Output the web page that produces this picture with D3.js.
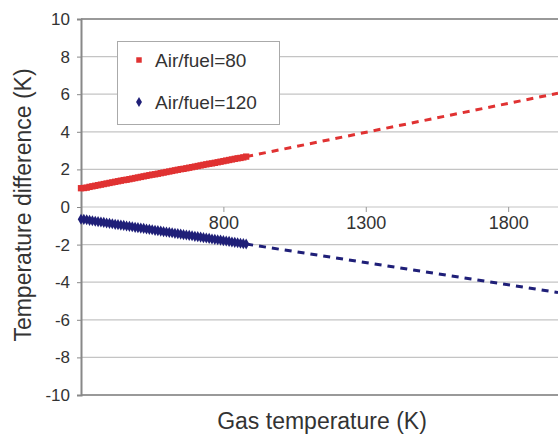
<!DOCTYPE html>
<html>
<head>
<meta charset="utf-8">
<script src="https://cdn.jsdelivr.net/npm/d3@7"></script>
<style>
body { margin: 0; background: #fff; }
text { font-family: "Liberation Sans", Arial, sans-serif; fill: #333; }
</style>
</head>
<body>
<script>
var w = 558;
var h = 437;

// gas temperature (K) of the measured points
var temps = [300, 310, 320, 330, 340, 350, 360, 370, 380, 390,
    400, 410, 420, 430, 440, 450, 460, 470, 480, 490,
    500, 510, 520, 530, 540, 550, 560, 570, 580, 590,
    600, 610, 620, 630, 640, 650, 660, 670, 680, 690,
    700, 710, 720, 730, 740, 750, 760, 770, 780, 790,
    800, 810, 820, 830, 840, 850, 860, 870, 880];

// Air/fuel=80
var diff80 = [1.00, 1.01, 1.03, 1.07, 1.10, 1.13, 1.16, 1.19, 1.22, 1.25,
    1.28, 1.31, 1.34, 1.37, 1.40, 1.43, 1.45, 1.48, 1.51, 1.54,
    1.57, 1.60, 1.63, 1.66, 1.69, 1.72, 1.74, 1.77, 1.80, 1.83,
    1.86, 1.89, 1.92, 1.95, 1.98, 2.01, 2.03, 2.06, 2.09, 2.12,
    2.15, 2.18, 2.21, 2.24, 2.27, 2.30, 2.32, 2.35, 2.38, 2.41,
    2.44, 2.47, 2.50, 2.53, 2.56, 2.59, 2.61, 2.64, 2.68];

// Air/fuel=120
var diff120 = [-0.65, -0.66, -0.68, -0.71, -0.73, -0.76, -0.78, -0.80, -0.82, -0.85,
    -0.87, -0.89, -0.92, -0.94, -0.96, -0.98, -1.01, -1.03, -1.05, -1.08,
    -1.10, -1.12, -1.14, -1.17, -1.19, -1.21, -1.24, -1.26, -1.28, -1.31,
    -1.33, -1.35, -1.37, -1.40, -1.42, -1.44, -1.47, -1.49, -1.51, -1.53,
    -1.56, -1.58, -1.60, -1.63, -1.65, -1.67, -1.70, -1.72, -1.74, -1.76,
    -1.79, -1.81, -1.83, -1.86, -1.88, -1.90, -1.93, -1.95, -1.97];

// dashed extrapolation (start, end)
var trendTemps = [880, 1975];
var trend80 = [2.68, 6.05];
var trend120 = [-1.97, -4.55];

var xTicks = [800, 1300, 1800];
var yTicks = [-10, -8, -6, -4, -2, 0, 2, 4, 6, 8, 10];
var seriesNames = ["Air/fuel=80", "Air/fuel=120"];

var red = "#e03232";
var navy = "#1f1f78";

var svg = d3.select("body")
    .append("svg")
    .attr("width", w)
    .attr("height", h);

var x = d3.scaleLinear().domain([300, 1975]).range([81, 558]);
var y = d3.scaleLinear().domain([-10, 10]).range([395, 19]);

// gridlines
svg.append("g")
    .selectAll("line")
    .data(yTicks)
    .enter().append("line")
    .attr("x1", 81)
    .attr("x2", w)
    .attr("y1", function(d) { return y(d); })
    .attr("y2", function(d) { return y(d); })
    .attr("stroke", function(d) { return Math.abs(d) == 10 ? "#999" : "#c4c4c4"; })
    .attr("stroke-width", function(d) { return Math.abs(d) == 10 ? 2 : 1.2; });

// y axis
var yAxis = svg.append("g")
    .attr("transform", "translate(81,0)")
    .call(d3.axisLeft(y).tickValues(yTicks).tickSize(4).tickPadding(7)
        .tickFormat(function(d) { return String(d); }));
yAxis.select(".domain").attr("stroke", "#888").attr("stroke-width", 2);
yAxis.selectAll(".tick line").attr("stroke", "#888");
yAxis.selectAll("text")
    .style("font-size", "17px")
    .style("fill", "#333");

// x axis sits on the zero line
var xAxis = svg.append("g")
    .attr("transform", "translate(0," + y(0) + ")")
    .call(d3.axisBottom(x).tickValues(xTicks).tickSize(5).tickPadding(4)
        .tickFormat(function(d) { return String(d); }));
xAxis.select(".domain").remove();
xAxis.selectAll(".tick line").attr("stroke", "#999");
xAxis.selectAll("text")
    .style("font-size", "18px")
    .style("fill", "#333");

// dashed trend lines
var line = d3.line()
    .x(function(d) { return x(d[0]); })
    .y(function(d) { return y(d[1]); });

svg.append("path")
    .attr("d", line(d3.zip(trendTemps, trend80)))
    .attr("fill", "none")
    .attr("stroke", red)
    .attr("stroke-width", 3)
    .attr("stroke-dasharray", "7,6");

svg.append("path")
    .attr("d", line(d3.zip(trendTemps, trend120)))
    .attr("fill", "none")
    .attr("stroke", navy)
    .attr("stroke-width", 3)
    .attr("stroke-dasharray", "7,6");

// markers
svg.append("g")
    .selectAll("path")
    .data(d3.zip(temps, diff80))
    .enter().append("path")
    .attr("d", d3.symbol().type(d3.symbolSquare).size(40))
    .attr("transform", function(d) { return "translate(" + x(d[0]) + "," + y(d[1]) + ")"; })
    .attr("fill", red);

svg.append("g")
    .selectAll("path")
    .data(d3.zip(temps, diff120))
    .enter().append("path")
    .attr("d", d3.symbol().type(d3.symbolDiamond).size(36))
    .attr("transform", function(d) { return "translate(" + x(d[0]) + "," + y(d[1]) + ")"; })
    .attr("fill", navy);

// legend
var legend = svg.append("g");
legend.append("rect")
    .attr("x", 117.5)
    .attr("y", 41.5)
    .attr("width", 162)
    .attr("height", 83)
    .attr("fill", "#fff")
    .attr("stroke", "#aaa");

var symbols = [d3.symbolSquare, d3.symbolDiamond];
var colours = [red, navy];
seriesNames.forEach(function(name, i) {
    var cy = 60 + i * 42;
    legend.append("path")
        .attr("d", d3.symbol().type(symbols[i]).size(30))
        .attr("transform", "translate(139," + cy + ")")
        .attr("fill", colours[i]);
    legend.append("text")
        .attr("x", 155)
        .attr("y", cy)
        .attr("dy", "0.35em")
        .style("font-size", "19px")
        .text(name);
});

// axis titles
svg.append("text")
    .attr("x", 322)
    .attr("y", 429)
    .attr("text-anchor", "middle")
    .style("font-size", "23px")
    .text("Gas temperature (K)");

svg.append("text")
    .attr("transform", "translate(31,205) rotate(-90)")
    .attr("text-anchor", "middle")
    .style("font-size", "23px")
    .text("Temperature difference (K)");
</script>
</body>
</html>
